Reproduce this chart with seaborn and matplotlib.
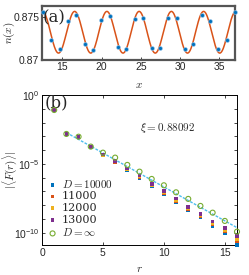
import numpy as np
import pandas as pd
import seaborn as sns
import matplotlib.pyplot as plt
from matplotlib.ticker import NullFormatter

# === panel (a): density profile ===
x_pts = [12.52, 13.58, 14.65, 15.71, 16.78, 17.84, 18.91, 19.97, 21.04, 22.10, 23.17, 24.23,
         25.30, 26.36, 27.43, 28.49, 29.56, 30.62, 31.69, 32.75, 33.82, 34.88, 35.95, 37.01]
n_pts = [0.87559, 0.87227, 0.87121, 0.87453, 0.87532, 0.87188, 0.87117, 0.87470, 0.87512, 0.87148,
         0.87121, 0.87481, 0.87493, 0.87141, 0.87141, 0.87493, 0.87493, 0.87129, 0.87188, 0.87532,
         0.87461, 0.87129, 0.87235, 0.87559]
# cosine fit
n0, amp, period, x_peak = 0.87323, 0.00247, 4.11, 16.56

# === panel (b): correlation decay (log10 values) ===
r = list(range(1, 17))
logF_10000 = [-1.09, -2.83, -3.06, -3.82, -4.40, -4.88, -5.45, -6.03, -6.63, -7.21, -7.77, -8.35, -8.91, -9.51, -10.04, -10.90]
logF_11000 = [-1.09, -2.83, -3.05, -3.80, -4.37, -4.85, -5.40, -5.96, -6.57, -7.13, -7.68, -8.29, -8.83, -9.40, -9.92, -10.60]
logF_12000 = [-1.09, -2.83, -3.05, -3.79, -4.35, -4.83, -5.37, -5.91, -6.52, -7.07, -7.61, -8.23, -8.75, -9.30, -9.80, -10.45]
logF_13000 = [-1.09, -2.83, -3.04, -3.78, -4.33, -4.80, -5.33, -5.86, -6.46, -7.00, -7.53, -8.16, -8.66, -9.20, -9.68, -10.24]
logF_inf = [-1.09, -2.83, -3.03, -3.75, -4.19, -4.55, -5.08, -5.57, -6.10, -6.56, -7.07, -7.55, -8.06, -8.55, -9.15, -9.93]
xi = 0.88092
fit_log_c = -1.75   # intercept of the exponential fit
series = ['$D = 10000$', '11000', '12000', '13000']
colors = ['#0072BD', '#D95319', '#EDB120', '#7E2F8E']

sns.set_style("ticks")
plt.rcParams['font.family'] = ['Liberation Sans', 'DejaVu Sans']
plt.rcParams['mathtext.fontset'] = 'cm'
plt.rcParams['xtick.direction'] = 'in'
plt.rcParams['ytick.direction'] = 'in'

fig = plt.figure(figsize=(2.49, 2.75), dpi=100)
ax1 = fig.add_axes([42 / 249, 1 - 59.5 / 275, 193 / 249, 54 / 275])
ax2 = fig.add_axes([42 / 249, 1 - 245 / 275, 195 / 249, 150 / 275])

# --- (a) ---
xf = np.linspace(12.4, 37.0, 500)
nf = n0 + amp * np.cos(2 * np.pi * (xf - x_peak) / period)
sns.lineplot(x=xf, y=nf, color='#D95319', lw=1.1, ax=ax1)
sns.scatterplot(x=x_pts, y=n_pts, color='#0072BD', s=8, edgecolor='#9cc8ee', linewidth=0.4,
                ax=ax1, zorder=3, clip_on=False)
ax1.set_xlim(12.4, 37.0)
ax1.set_ylim(0.87, 0.8764)
ax1.set_xticks([15, 20, 25, 30, 35])
ax1.set_yticks([0.87, 0.875])
ax1.set_yticklabels(['0.87', '0.875'])
ax1.tick_params(labelsize=7.5, length=2, width=0.6, pad=2)
for s in ax1.spines.values():
    s.set_color('#555555')
    s.set_linewidth(1.6)
ax1.set_xlabel('$x$', fontsize=8)
ax1.xaxis.set_label_coords(0.5, -0.38)
ax1.set_ylabel('$n(x)$', fontsize=8)
ax1.yaxis.set_label_coords(-0.13, 0.5)
ax1.text(0.005, 0.77, '(a)', transform=ax1.transAxes, fontsize=12, family='DejaVu Serif',
         va='center', ha='left')

# --- (b) ---
for logs, lab, c in zip([logF_10000, logF_11000, logF_12000, logF_13000], series, colors):
    sns.scatterplot(x=r, y=10.0 ** np.array(logs), marker='s', s=7, color=c, edgecolor='none',
                    label=lab, ax=ax2, zorder=3, clip_on=False)
sns.scatterplot(x=r, y=10.0 ** np.array(logF_inf), marker='o', s=13, facecolor='none',
                edgecolor='#77AC30', linewidth=0.8, label=r'$D = \infty$', ax=ax2, zorder=4,
                clip_on=False)
rf = np.linspace(2, 16, 50)
sns.lineplot(x=rf, y=10.0 ** (fit_log_c - rf / (xi * np.log(10))), color='#4DBEEE', lw=1.0,
             linestyle=(0, (2, 1)), ax=ax2, zorder=2)
ax2.set_yscale('log')
ax2.set_xlim(0, 16)
ax2.set_ylim(10 ** -10.9, 1)
ax2.set_xticks([0, 5, 10, 15])
ax2.set_yticks([1, 1e-5, 1e-10])
ax2.set_yticklabels([r'$\mathregular{10^{0}}$', r'$\mathregular{10^{-5}}$', r'$\mathregular{10^{-10}}$'])
ax2.set_yticks([10.0 ** -k for k in range(1, 11) if k % 5], minor=True)
ax2.yaxis.set_minor_formatter(NullFormatter())
ax2.tick_params(labelsize=7.5, length=2, width=0.6, pad=2, top=True, right=True)
ax2.tick_params(which='minor', length=2, width=0.6, right=True, left=True)
for s in ax2.spines.values():
    s.set_color('black')
    s.set_linewidth(0.7)
ax2.set_xlabel('$r$', fontsize=8)
ax2.xaxis.set_label_coords(0.5, -0.13)
ax2.set_ylabel(r'$|\langle F(r) \rangle|$', fontsize=8)
ax2.yaxis.set_label_coords(-0.12, 0.5)
ax2.text(0.015, 0.945, '(b)', transform=ax2.transAxes, fontsize=12, family='DejaVu Serif',
         va='center', ha='left')
ax2.text(0.50, 0.78, r'$\xi = 0.88092$', transform=ax2.transAxes, fontsize=8, ha='left',
         va='center')
leg = ax2.legend(loc='lower left', bbox_to_anchor=(0.0, 0.0), frameon=False,
                 labelspacing=0.15, handlelength=0.7, handletextpad=0.5, borderaxespad=0.2,
                 prop={'family': 'DejaVu Serif', 'size': 8})

fig.savefig('out.png', dpi=100)
